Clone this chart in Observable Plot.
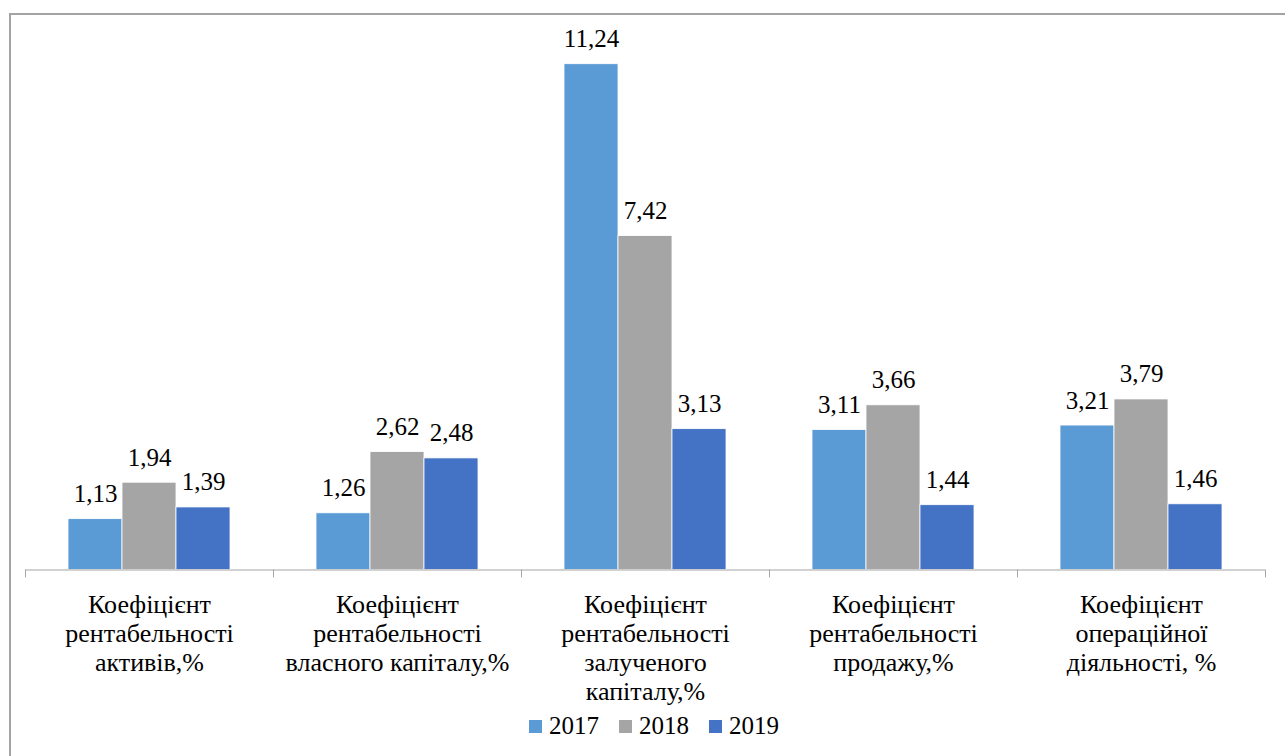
<!DOCTYPE html>
<html>
<head>
<meta charset="utf-8">
<script src="https://cdn.jsdelivr.net/npm/d3@7"></script>
<script src="https://cdn.jsdelivr.net/npm/@observablehq/plot@0.6"></script>
<style>
  html, body { margin: 0; padding: 0; background: #fff; overflow: hidden; }
  body { width: 1285px; height: 756px; position: relative; font-family: "Liberation Serif", "DejaVu Serif", serif; }
  #frame { position: absolute; left: 9px; top: 13px; width: 1400px; height: 900px; border-left: 2px solid #a3a3a3; border-top: 2px solid #a3a3a3; }
  #chart { position: absolute; left: 0; top: 0; }
  #chart svg { font-family: "Liberation Serif", "DejaVu Serif", serif !important; }
  #legend { position: absolute; left: 529px; top: 712px; display: flex; align-items: center; font-size: 25px; color: #000; font-family: "Liberation Serif", "DejaVu Serif", serif; }
  .item { display: flex; align-items: center; margin-right: 20px; }
  .sw { width: 13px; height: 13px; margin-right: 7px; }
</style>
</head>
<body>
<div id="frame"></div>
<div id="chart"></div>
<div id="legend"></div>
<script>
const categories = [
  "Коефіцієнт\nрентабельності\nактивів,%",
  "Коефіцієнт\nрентабельності\nвласного капіталу,%",
  "Коефіцієнт\nрентабельності\nзалученого\nкапіталу,%",
  "Коефіцієнт\nрентабельності\nпродажу,%",
  "Коефіцієнт\nопераційної\nдіяльності, %"
];
const years = ["2017", "2018", "2019"];
const values2017 = [1.13, 1.26, 11.24, 3.11, 3.21];
const values2018 = [1.94, 2.62, 7.42, 3.66, 3.79];
const values2019 = [1.39, 2.48, 3.13, 1.44, 1.46];
const colors = ["#5B9BD5", "#A5A5A5", "#4472C4"];

const series = [values2017, values2018, values2019];
const data = [];
categories.forEach((c, i) => {
  years.forEach((y, j) => data.push({category: c, year: y, value: series[j][i]}));
});

const fmt = v => v.toFixed(2).replace(".", ",");
const axisColor = "#a6a6a6";
const serif = "'Liberation Serif', 'DejaVu Serif', serif";

const chart = Plot.plot({
  width: 1285,
  height: 745,
  marginLeft: 25,
  marginRight: 20,
  marginTop: 29.5,
  marginBottom: 175.5,
  style: {fontFamily: serif, background: "transparent", overflow: "visible"},
  fx: {domain: categories, paddingInner: 0, paddingOuter: 0, axis: null, label: null},
  x: {domain: years, paddingInner: 0, paddingOuter: 0.755, axis: null, label: null},
  y: {domain: [0, 12], axis: null, label: null},
  color: {domain: years, range: colors},
  marks: [
    Plot.barY(data, {fx: "category", x: "year", y: "value", fill: "year", stroke: "#fff", strokeWidth: 0.8}),
    Plot.ruleY([0], {stroke: axisColor, strokeWidth: 1.2}),
    Plot.text(data, {fx: "category", x: "year", y: "value", text: d => fmt(d.value), lineAnchor: "bottom", dy: -17, fontSize: 25, fill: "#000", fontFamily: serif}),
    Plot.axisFx({anchor: "bottom", tickSize: 8, tickFormat: () => "", label: null, stroke: axisColor, dx: -124}),
    Plot.axisFx({anchor: "bottom", ticks: [categories[categories.length - 1]], tickSize: 8, tickFormat: () => "", label: null, stroke: axisColor, dx: 124}),
    Plot.text(categories, {fx: d => d, text: d => d, frameAnchor: "bottom", lineAnchor: "top", dy: 22, fontSize: 26, lineHeight: 1.12, fill: "#000", textAnchor: "middle", fontFamily: serif})
  ]
});
document.getElementById("chart").appendChild(chart);

const legend = document.getElementById("legend");
years.forEach((y, i) => {
  const item = document.createElement("div");
  item.className = "item";
  const sw = document.createElement("span");
  sw.className = "sw";
  sw.style.background = colors[i];
  const t = document.createElement("span");
  t.textContent = y;
  item.appendChild(sw);
  item.appendChild(t);
  legend.appendChild(item);
});
</script>
</body>
</html>
